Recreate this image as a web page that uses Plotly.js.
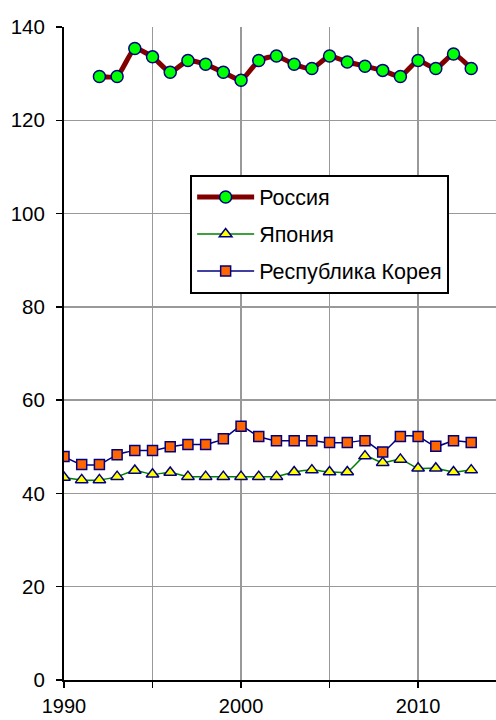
<!DOCTYPE html>
<html>
<head>
<meta charset="utf-8">
<script src="https://cdn.plot.ly/plotly-3.0.1.min.js"></script>
<style>html,body{margin:0;padding:0;background:#fff;}#chart{width:496px;height:720px;}</style>
</head>
<body>
<div id="chart"></div>
<script>
var yearsRussia = [1992,1993,1994,1995,1996,1997,1998,1999,2000,2001,2002,2003,2004,2005,2006,2007,2008,2009,2010,2011,2012,2013];
var russia = [129.4,129.4,135.4,133.6,130.3,132.8,132.0,130.3,128.6,132.8,133.8,132.0,131.1,133.8,132.5,131.6,130.7,129.4,132.8,131.1,134.2,131.1];
var years = [1990,1991,1992,1993,1994,1995,1996,1997,1998,1999,2000,2001,2002,2003,2004,2005,2006,2007,2008,2009,2010,2011,2012,2013];
var japan = [43.4,42.9,42.9,43.6,44.9,44.1,44.5,43.6,43.6,43.6,43.6,43.6,43.6,44.6,45.0,44.6,44.6,48.0,46.6,47.3,45.4,45.4,44.6,45.0];
var korea = [47.9,46.2,46.2,48.3,49.2,49.2,50.0,50.5,50.5,51.7,54.4,52.2,51.3,51.3,51.3,50.9,50.9,51.3,48.9,52.2,52.2,50.1,51.3,50.9];
var names = ['Россия','Япония','Республика Корея'];
var xTickVals = [1990,1995,2000,2005,2010];
var xTickText = ['1990','','2000','','2010'];
var yTickVals = [0,20,40,60,80,100,120,140];

var traces = [
  {x: yearsRussia, y: russia, name: names[0], legendgroup:'a', mode:'lines+markers',
   line:{color:'#800000', width:5, shape:'spline', smoothing:0.5},
   marker:{symbol:'circle', size:12, color:'#00ff00', line:{color:'#000080', width:1.5}}},
  {x: years, y: japan, name: names[1], legendgroup:'b', mode:'lines+markers',
   line:{color:'#008000', width:1.5, shape:'spline', smoothing:0.5},
   marker:{symbol:'triangle-up', size:11, color:'#ffff00', line:{color:'#000080', width:1.5}}},
  {x: years, y: korea, name: names[2], legendgroup:'c', mode:'lines+markers',
   line:{color:'#000080', width:1.5, shape:'spline', smoothing:0.5},
   marker:{symbol:'square', size:10, color:'#ff6600', line:{color:'#000080', width:1.5}}}
];

var layout = {
  width: 496, height: 720,
  margin: {l:64, r:0, t:27, b:40},
  paper_bgcolor:'#fff', plot_bgcolor:'#fff',
  font: {family:'"Liberation Sans", Arial, sans-serif', size:20.5, color:'#000'},
  showlegend: true,
  legend: {x:0.292, y:0.774, xanchor:'left', yanchor:'top', bgcolor:'#fff',
           bordercolor:'#000', borderwidth:2, traceorder:'grouped', tracegroupgap:6,
           itemwidth:57, font:{size:21.5}},
  xaxis: {range:[1990, 2014.4], tickvals:xTickVals, ticktext:xTickText, showgrid:true,
          gridcolor:'#999', gridwidth:1.5, showline:true, linecolor:'#000', linewidth:2,
          ticks:'outside', ticklen:6, tickcolor:'#000', tickwidth:1.5, zeroline:false,
          ticklabelstandoff:1, tickfont:{size:20}},
  yaxis: {range:[0,140], tickvals:yTickVals, showgrid:true, gridcolor:'#999', gridwidth:1.5,
          showline:true, linecolor:'#000', linewidth:2, ticks:'outside', ticklen:6,
          tickcolor:'#000', tickwidth:1.5, zeroline:false, ticklabelstandoff:7}
};
Plotly.newPlot('chart', traces, layout, {displayModeBar:false, staticPlot:true});
</script>
</body>
</html>
